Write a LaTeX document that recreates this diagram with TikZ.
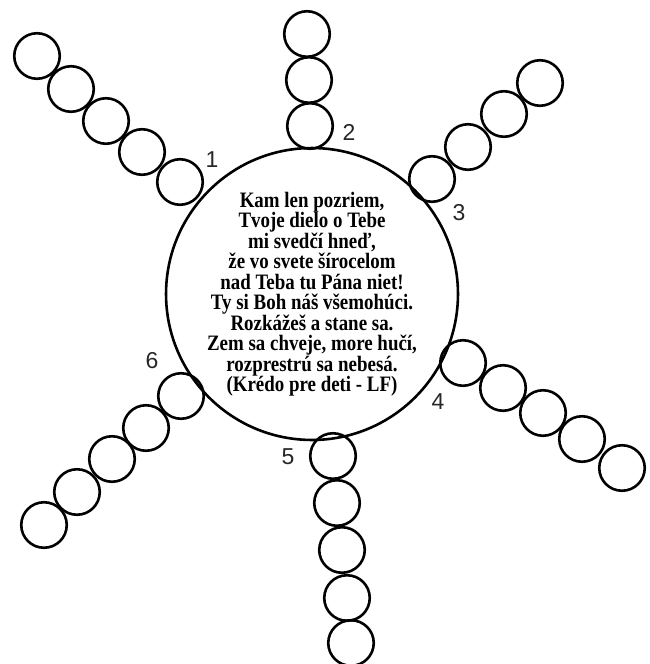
\documentclass[tikz,border=0pt]{standalone}
\usepackage{fontspec}
\setmainfont{Liberation Serif}
\newfontfamily\numfont{Liberation Sans}
\newfontfamily\poemfont[FakeStretch=0.86]{Liberation Serif}
\usetikzlibrary{positioning}

\begin{document}
\begin{tikzpicture}[x=1pt, y=-1pt,
    bead/.style={circle, draw, line width=2.6pt, minimum size=45.5pt, inner sep=0pt},
    num/.style={font=\numfont\fontsize{23}{23}\selectfont, text=black!85},
    ring/.style={circle, draw, line width=2.6pt, minimum size=265pt, inner sep=0pt,
      align=center, font=\poemfont\bfseries\fontsize{22}{20.5}\selectfont}]
  \useasboundingbox (0,0) rectangle (650,664);
  % centre
  \node[ring] (verse) at (312,294) {Kam len pozriem,\\
    Tvoje dielo o Tebe\\
    mi svedčí hneď,\\
    že vo svete šírocelom\\
    nad Teba tu Pána niet!\\
    Ty si Boh náš všemohúci.\\
    Rozkážeš a stane sa.\\
    Zem sa chveje, more hučí,\\
    rozprestrú sa nebesá.\\
    (Krédo pre deti - LF)};
  % chain 1
  \foreach \x/\y [count=\i] in {37/56, 71/89, 106/121, 142/152, 180/182}
    \node[bead] (a\i) at (\x,\y) {};
  \node[num] (n1) at (212,160) {1};
  % chain 2
  \foreach \x/\y [count=\i] in {307/34, 309/80, 310/126}
    \node[bead] (b\i) at (\x,\y) {};
  \node[num] (n2) at (349,132) {2};
  % chain 3
  \foreach \x/\y [count=\i] in {432/179, 468/147, 504/114, 540/83}
    \node[bead] (c\i) at (\x,\y) {};
  \node[num] (n3) at (459,213) {3};
  % chain 4
  \foreach \x/\y [count=\i] in {463/363, 503/388, 543/413, 582/439, 622/468}
    \node[bead] (d\i) at (\x,\y) {};
  \node[num] (n4) at (438,402) {4};
  % chain 5
  \foreach \x/\y [count=\i] in {333/456, 337/503, 342/550, 347/598, 351/643}
    \node[bead] (e\i) at (\x,\y) {};
  \node[num] (n5) at (288,457) {5};
  % chain 6
  \foreach \x/\y [count=\i] in {181/396, 146/428, 112/459, 77/492, 44/525}
    \node[bead] (f\i) at (\x,\y) {};
  \node[num] (n6) at (152,361) {6};
\end{tikzpicture}
\end{document}
